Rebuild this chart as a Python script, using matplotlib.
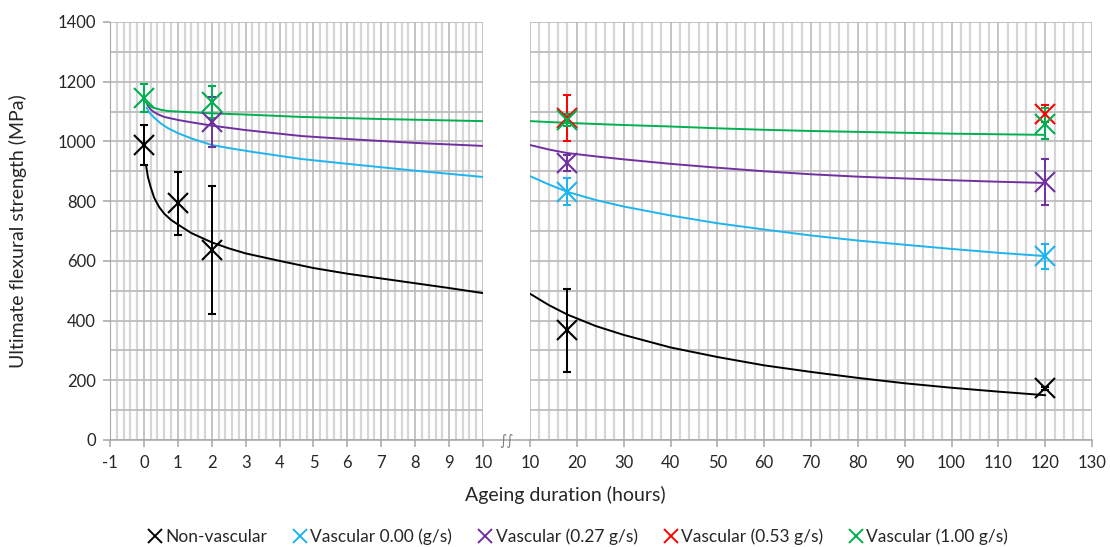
import matplotlib
matplotlib.use("Agg")
import matplotlib.pyplot as plt
from matplotlib.lines import Line2D
from matplotlib.ticker import MultipleLocator

plt.rcParams['font.family'] = ['Lato', 'DejaVu Sans']

# ---- data ----
series_names = ["Non-vascular", "Vascular 0.00 (g/s)", "Vascular (0.27 g/s)",
                "Vascular (0.53 g/s)", "Vascular (1.00 g/s)"]
colors = ["#000000", "#1EB4F0", "#7030A0", "#FF0000", "#00B050"]

# measured points (hours, MPa, error)
nv_x = [0, 1, 2, 18, 120]
nv_y = [987, 793, 636, 368, 174]
nv_e = [67, 105, 214, 139, 5]

v00_x = [18, 120]
v00_y = [831, 616]
v00_e = [45, 42]

v27_x = [2, 18, 120]
v27_y = [1065, 928, 865]
v27_e = [84, 27, 77]

v53_x = [18, 120]
v53_y = [1080, 1093]
v53_e = [77, 28]

v100_x = [0, 2, 18, 120]
v100_y = [1145, 1132, 1073, 1060]
v100_e = [48, 55, 20, 53]

# trend curves (left panel: 0-10 h, right panel: 10-120 h)
nv_fit_l_x = [0.07, 0.12, 0.2, 0.3, 0.45, 0.6, 0.8, 1.0, 1.4, 2, 2.5, 3, 4, 5, 6, 7, 8, 9, 10]
nv_fit_l_y = [915, 880, 847, 812, 780, 758, 737, 722, 693, 662, 642, 625, 600, 576, 557, 541, 525, 509, 492]
nv_fit_r_x = [10, 14, 18, 24, 30, 40, 50, 60, 70, 80, 90, 100, 110, 120]
nv_fit_r_y = [490, 452, 420, 382, 352, 310, 278, 250, 228, 208, 190, 175, 162, 150]

v00_fit_l_x = [0.08, 0.15, 0.3, 0.5, 0.7, 1.0, 1.4, 2, 2.6, 3.2, 4.65, 6, 8, 10]
v00_fit_l_y = [1112, 1098, 1080, 1060, 1045, 1028, 1010, 988, 976, 965, 941, 925, 902, 881]
v00_fit_r_x = [10, 14, 18, 24, 30, 40, 50, 60, 70, 80, 90, 100, 110, 120]
v00_fit_r_y = [884, 856, 831, 804, 782, 752, 726, 705, 685, 668, 654, 640, 627, 616]

v27_fit_l_x = [0.1, 0.2, 0.3, 0.45, 0.6, 0.8, 1, 1.4, 2, 3, 4.65, 6, 8, 10]
v27_fit_l_y = [1122, 1107, 1098, 1089, 1082, 1077, 1072, 1064, 1053, 1038, 1018, 1008, 995, 985]
v27_fit_r_x = [10, 14, 18, 24, 30, 40, 50, 60, 70, 80, 90, 100, 110, 120]
v27_fit_r_y = [988, 973, 961, 950, 940, 925, 912, 900, 890, 882, 876, 870, 865, 861]

v100_fit_l_x = [0.05, 0.15, 0.3, 0.5, 0.7, 1, 2, 3, 4.65, 7, 10]
v100_fit_l_y = [1132, 1120, 1112, 1106, 1102, 1100, 1094, 1090, 1082, 1075, 1068]
v100_fit_r_x = [10, 18, 30, 40, 50, 60, 70, 80, 90, 100, 110, 120]
v100_fit_r_y = [1068, 1062, 1055, 1050, 1044, 1039, 1035, 1032, 1029, 1026, 1024, 1022]

left_ticks = [-1, 0, 1, 2, 3, 4, 5, 6, 7, 8, 9, 10]
right_ticks = [10, 20, 30, 40, 50, 60, 70, 80, 90, 100, 110, 120, 130]
y_ticks = [0, 200, 400, 600, 800, 1000, 1200, 1400]

# ---- figure ----
W, H = 1110, 547
fig = plt.figure(figsize=(W / 100, H / 100), dpi=100)

def px_axes(x0, x1, y0, y1):
    return fig.add_axes([x0 / W, 1 - y1 / H, (x1 - x0) / W, (y1 - y0) / H])

axL = px_axes(110, 483, 22, 440)
axR = px_axes(530, 1092, 22, 440)

grid_major = "#b4b4b4"
grid_minor = "#d6d6d6"
tick_col = "#a6a6a6"

for ax, xlim, major, minor in [(axL, (-1, 10), 1, 0.2), (axR, (10, 130), 10, 2)]:
    ax.set_xlim(*xlim)
    ax.set_ylim(0, 1400)
    ax.xaxis.set_major_locator(MultipleLocator(major))
    ax.xaxis.set_minor_locator(MultipleLocator(minor))
    ax.yaxis.set_major_locator(MultipleLocator(200))
    ax.yaxis.set_minor_locator(MultipleLocator(100))
    ax.grid(which='minor', axis='x', color=grid_minor, lw=1.6)
    ax.grid(which='major', axis='x', color=grid_major, lw=1.1)
    ax.grid(which='both', axis='y', color="#bdbdbd", lw=1.3)
    ax.set_axisbelow(True)
    for s in ['top', 'right', 'left']:
        ax.spines[s].set_visible(False)
    ax.spines['bottom'].set_color(tick_col)
    ax.spines['bottom'].set_linewidth(1.1)
    ax.tick_params(axis='x', which='major', length=5, color=tick_col, width=1.1,
                   labelsize=12, pad=6, labelcolor="#262626")
    ax.tick_params(axis='x', which='minor', length=0)
    ax.tick_params(axis='y', which='minor', length=0)

axL.set_xticks(left_ticks)
axL.set_xticklabels([str(t) for t in left_ticks])
axR.set_xticks(right_ticks)
axR.set_xticklabels([str(t) for t in right_ticks])
axL.set_yticks(y_ticks)
axL.set_yticklabels([str(t) for t in y_ticks])
axL.spines['left'].set_visible(True)
axL.spines['left'].set_color(tick_col)
axL.tick_params(axis='y', which='major', length=5, color=tick_col, width=1.1,
                labelsize=12, pad=5, labelcolor="#262626")
axR.tick_params(axis='y', which='both', length=0, labelleft=False)

# curves
fits = [
    (nv_fit_l_x, nv_fit_l_y, nv_fit_r_x, nv_fit_r_y, colors[0]),
    (v00_fit_l_x, v00_fit_l_y, v00_fit_r_x, v00_fit_r_y, colors[1]),
    (v27_fit_l_x, v27_fit_l_y, v27_fit_r_x, v27_fit_r_y, colors[2]),
    (v100_fit_l_x, v100_fit_l_y, v100_fit_r_x, v100_fit_r_y, colors[4]),
]
for lx, ly, rx, ry, c in fits:
    axL.plot(lx, ly, color=c, lw=1.4, zorder=3, solid_joinstyle='round')
    axR.plot(rx, ry, color=c, lw=1.4, zorder=3, solid_joinstyle='round')

# points
pts = [
    (nv_x, nv_y, nv_e, colors[0]),
    (v00_x, v00_y, v00_e, colors[1]),
    (v27_x, v27_y, v27_e, colors[2]),
    (v53_x, v53_y, v53_e, colors[3]),
    (v100_x, v100_y, v100_e, colors[4]),
]
for xs, ys, es, c in pts:
    for ax in (axL, axR):
        if ax is axL:
            sel = [i for i, x in enumerate(xs) if x <= 10]
        else:
            sel = [i for i, x in enumerate(xs) if x > 10]
        if not sel:
            continue
        ax.errorbar([xs[i] for i in sel], [ys[i] for i in sel], yerr=[es[i] for i in sel],
                    fmt='x', color=c, ms=14, mew=1.5, elinewidth=1.4, capsize=3,
                    capthick=1.4, zorder=4)

# continued axis line across gap + break symbol
fig.add_artist(Line2D([483 / W, 530 / W], [1 - 440 / H, 1 - 440 / H],
                      color=tick_col, lw=1.1))
fig.text(507 / W, 1 - 441 / H, "\u222b\u222b", ha='center', va='center',
         fontsize=10, color="#7f7f7f", family='DejaVu Sans', style='italic')

# labels
fig.text(18 / W, 1 - 231 / H, "Ultimate flexural strength (MPa)", rotation=90,
         ha='center', va='center', fontsize=14, color="#262626")
fig.text(565 / W, 1 - 495 / H, "Ageing duration (hours)", ha='center', va='center',
         fontsize=14, color="#262626")

# legend
handles = [Line2D([], [], marker='x', ls='none', color=c, ms=10, mew=1.4) for c in colors]
fig.legend(handles, series_names, loc='center', ncol=5, bbox_to_anchor=(578 / W, 1 - 537 / H),
           frameon=False, fontsize=12.5, handlelength=0.8, handletextpad=0.2,
           columnspacing=1.5, labelcolor="#262626")

fig.savefig("out.png", dpi=100)
